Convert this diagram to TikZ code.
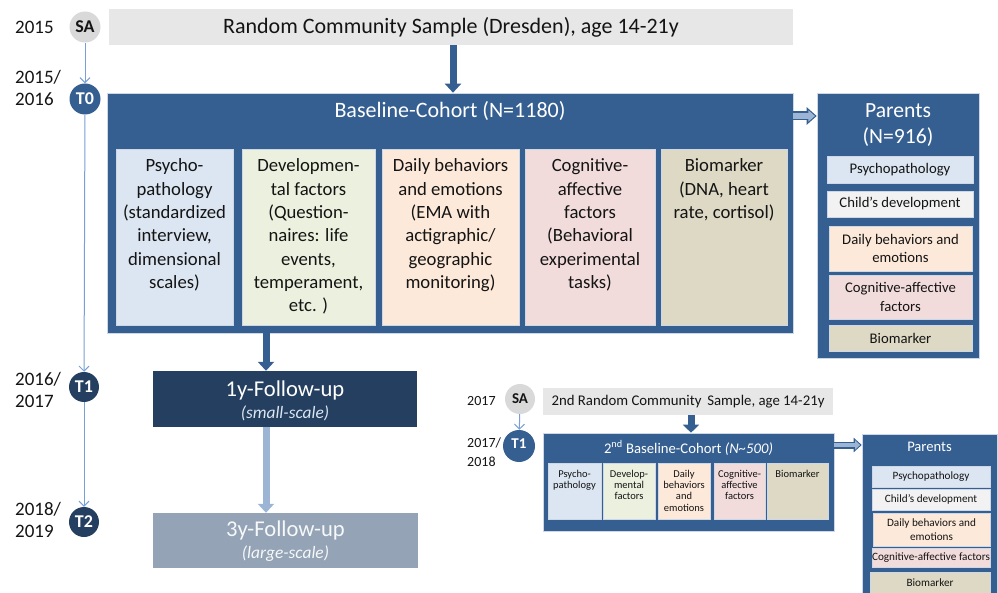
\documentclass[tikz,border=0pt]{standalone}
\usepackage{fontspec}
\setmainfont{Carlito}
\usetikzlibrary{arrows.meta,calc}
\definecolor{cdark}{RGB}{54,95,145}
\definecolor{cnavy}{RGB}{36,63,96}
\definecolor{cgrey}{RGB}{148,163,182}
\definecolor{clight}{RGB}{157,181,213}
\definecolor{cline}{RGB}{120,160,215}
\definecolor{csamp}{RGB}{231,231,231}
\definecolor{ccirc}{RGB}{217,217,217}
\definecolor{fblue}{RGB}{220,230,242}
\definecolor{fgreen}{RGB}{235,241,222}
\definecolor{fpeach}{RGB}{253,233,217}
\definecolor{fpink}{RGB}{242,220,219}
\definecolor{ftan}{RGB}{221,217,196}
\definecolor{fwhite}{RGB}{242,242,242}
\definecolor{cborder}{RGB}{205,215,230}
\definecolor{ctext}{RGB}{20,20,20}
\newcommand{\fs}[2]{\fontsize{#1}{#2}\selectfont}
\tikzset{
  yr/.style={anchor=west, align=left, text=ctext, inner sep=0, font=\fs{19}{21.5}},
  yrs/.style={anchor=west, align=left, text=ctext, inner sep=0, font=\fs{14}{19}},
  circgrey/.style={circle, fill=ccirc, minimum size=31, inner sep=0, text=ctext, font=\bfseries\fs{18}{18}},
  circblue/.style={circle, fill=#1, minimum size=31, inner sep=0, text=white, font=\bfseries\fs{18}{18}},
  rbox/.style={rectangle, inner sep=0, draw=cborder, line width=0.6pt},
  btext/.style={anchor=north, align=center, inner sep=0, text=ctext, font=\fs{18.7}{23.3}},
  stext/.style={anchor=north, align=center, inner sep=0, text=ctext, font=\fs{10.5}{11.4}},
  ptext/.style={align=center, inner sep=0, text=ctext, font=\fs{14.7}{18.5}},
  p2text/.style={align=center, inner sep=0, text=ctext, font=\fs{11.2}{13.5}},
  bigarrow/.style={line width=7pt, draw=#1, -{Triangle[length=9pt,width=16pt]}},
  tl/.style={line width=1pt, draw=cline, -{Straight Barb[length=5pt,width=10pt]}},
}
\begin{document}
\begin{tikzpicture}[x=1pt,y=-1pt]
\useasboundingbox (0,0) rectangle (998,593);
\clip (0,0) rectangle (998,593);
% ---------- timeline ----------
\node[yr] (y2015) at (15,27) {2015};
\node[yr] (y2016) at (15,88) {2015/\\2016};
\node[yr] (y2017) at (15,390) {2016/\\2017};
\node[yr] (y2019) at (15,520) {2018/\\2019};
\node[circgrey] (sa) at (85,27) {SA};
\node[circblue=cdark] (t0) at (85,99) {T0};
\node[circblue=cnavy, minimum size=30] (t1) at (84,387) {T1};
\node[circblue=cnavy, minimum size=30] (t2) at (84,522) {T2};
\draw[tl] (sa) -- (t0);
\draw[tl] (t0) -- (t1);
\draw[tl] (t1) -- (t2);
% ---------- sample ----------
\node[rectangle, fill=csamp, minimum width=684, minimum height=36, inner sep=0, font=\fs{22}{26}, text=ctext] (samp) at (451,27) {Random Community Sample (Dresden), age 14-21y};
% ---------- baseline ----------
\node[rbox, fill=cdark, minimum width=686, minimum height=240] (base) at (450,213) {};
\node[inner sep=0, text=white, font=\fs{22}{26}] (basetitle) at (450,111) {Baseline-Cohort (N=1180)};
\draw[bigarrow=cdark] (453,0 |- samp.south) -- (453,0 |- base.north);
\node[rbox, fill=fblue,  minimum width=117, minimum height=176] (b1) at (174.5,237) {};
\node[rbox, fill=fgreen, minimum width=133, minimum height=176] (b2) at (308.5,237) {};
\node[rbox, fill=fpeach, minimum width=137, minimum height=176] (b3) at (450.5,237) {};
\node[rbox, fill=fpink,  minimum width=130, minimum height=176] (b4) at (590,237) {};
\node[rbox, fill=ftan,   minimum width=126, minimum height=176] (b5) at (724,237) {};
\node[btext] (b1t) at ($(b1.north)+(0,10)$) {Psycho-\\pathology\\(standardized\\interview,\\dimensional\\scales)};
\node[btext] (b2t) at ($(b2.north)+(0,10)$) {Developmen-\\tal factors\\(Question-\\naires: life\\events,\\temperament,\\etc. )};
\node[btext] (b3t) at ($(b3.north)+(0,10)$) {Daily behaviors\\and emotions\\(EMA with\\actigraphic/\\geographic\\monitoring)};
\node[btext] (b4t) at ($(b4.north)+(0,10)$) {Cognitive-\\affective\\factors\\(Behavioral\\experimental\\tasks)};
\node[btext] (b5t) at ($(b5.north)+(0,10)$) {Biomarker\\(DNA, heart\\rate, cortisol)};
% ---------- parents ----------
\node[rbox, fill=cdark, minimum width=162, minimum height=265] (par) at (898,225.5) {};
\node[inner sep=0, text=white, font=\fs{21.6}{26}, align=center] (partitle) at (898,125) {Parents\\(N=916)};
\node[rbox, fill=fblue,  minimum width=146, minimum height=27, ptext] (p1) at (900,169.5) {Psychopathology};
\node[rbox, fill=fwhite, minimum width=146, minimum height=26, ptext] (p2) at (900,204) {Child’s development};
\node[rbox, fill=fpeach, minimum width=143, minimum height=45, ptext] (p3) at (900.5,248.5) {Daily behaviors and\\emotions};
\node[rbox, fill=fpink,  minimum width=143, minimum height=44, ptext] (p4) at (900.5,297) {Cognitive-affective\\factors};
\node[rbox, fill=ftan,   minimum width=143, minimum height=26, ptext] (p5) at (900.5,338) {Biomarker};
\draw[line width=9pt, draw=cdark, -{Triangle[length=10pt,width=17pt]}] (base.east |- 0,116) -- (par.west |- 0,116);
\draw[line width=5.5pt, draw=clight, -{Triangle[length=6.5pt,width=11pt]}, shorten >=1.8pt] (base.east |- 0,116) -- (par.west |- 0,116);
% ---------- follow-ups ----------
\node[rectangle, fill=cnavy, minimum width=264, minimum height=56, inner sep=0] (fu1) at (285,399) {};
\node[inner sep=0, text=white, font=\fs{22.6}{26}] (fu1a) at (285,390) {1y-Follow-up};
\node[inner sep=0, text=fblue, font=\itshape\fs{17.4}{20}] (fu1b) at (285,413) {(small-scale)};
\node[rectangle, fill=cgrey, minimum width=265, minimum height=55, inner sep=0] (fu3) at (285.5,540.5) {};
\node[inner sep=0, text=white!92!cgrey, font=\fs{22.6}{26}] (fu3a) at (285.5,530) {3y-Follow-up};
\node[inner sep=0, text=white!92!cgrey, font=\itshape\fs{17.4}{20}] (fu3b) at (285.5,554) {(large-scale)};
\draw[bigarrow=cdark] (266,0 |- base.south) -- (266,0 |- fu1.north);
\draw[bigarrow=clight] (266,0 |- fu1.south) -- (266,0 |- fu3.north);
% ---------- second sample ----------
\node[yrs] (y2017b) at (467,401) {2017};
\node[yrs] (y2018b) at (467,452) {2017/\\2018};
\node[circgrey, minimum size=30, font=\bfseries\fs{15}{15}] (sa2) at (520,399) {SA};
\node[circblue=cdark, minimum size=32, font=\bfseries\fs{15}{15}] (t12) at (519,446) {\raisebox{4pt}{T1}};
\draw[tl] (sa2) -- (t12);
\node[rectangle, fill=csamp, minimum width=290, minimum height=27, inner sep=0, font=\fs{14.8}{17}, text=ctext] (samp2) at (688,401.5) {2nd Random Community\, Sample, age 14-21y};
\node[rbox, fill=cdark, minimum width=291, minimum height=98] (base2) at (688.5,482) {};
\node[inner sep=0, text=white, font=\fs{14.7}{17}] (base2title) at (688.5,448) {2\textsuperscript{nd} Baseline-Cohort \textit{(N\textasciitilde500)}};
\draw[line width=7pt, draw=cdark, -{Triangle[length=8pt,width=16pt]}] (691,0 |- samp2.south) -- (691,0 |- base2.north);
\node[rbox, fill=fblue,  minimum width=53, minimum height=56] (s1) at (574.5,491) {};
\node[rbox, fill=fgreen, minimum width=52, minimum height=56] (s2) at (629,491) {};
\node[rbox, fill=fpeach, minimum width=52, minimum height=56] (s3) at (684,491) {};
\node[rbox, fill=fpink,  minimum width=51, minimum height=56] (s4) at (739.5,491) {};
\node[rbox, fill=ftan,   minimum width=61, minimum height=56] (s5) at (797.5,491) {};
\node[stext] (s1t) at ($(s1.north)+(0,7)$) {Psycho-\\pathology};
\node[stext] (s2t) at ($(s2.north)+(0,7)$) {Develop-\\mental\\factors};
\node[stext] (s3t) at ($(s3.north)+(0,7)$) {Daily\\behaviors\\and\\emotions};
\node[stext] (s4t) at ($(s4.north)+(0,7)$) {Cognitive-\\affective\\factors};
\node[stext] (s5t) at ($(s5.north)+(0,7)$) {Biomarker};
% ---------- parents 2 ----------
\node[rbox, fill=cdark, minimum width=135, minimum height=163] (par2) at (929.5,515.5) {};
\node[inner sep=0, text=white, font=\fs{14.6}{17}] (par2title) at (929.5,447) {Parents};
\node[rbox, fill=fblue,  minimum width=118, minimum height=21, p2text] (q1) at (931,476.5) {Psychopathology};
\node[rbox, fill=fwhite, minimum width=118, minimum height=21, p2text] (q2) at (931,499.5) {Child’s development};
\node[rbox, fill=fpeach, minimum width=117, minimum height=33, p2text] (q3) at (931.5,529.5) {Daily behaviors and\\emotions};
\node[rbox, fill=fpink,  minimum width=118, minimum height=19, p2text] (q4) at (931,557.5) {Cognitive-affective factors};
\node[rbox, fill=ftan,   minimum width=120, minimum height=22, p2text] (q5) at (930,583) {Biomarker};
\draw[line width=7pt, draw=cdark, -{Triangle[length=8pt,width=14pt]}] (base2.east |- 0,445) -- (par2.west |- 0,445);
\draw[line width=4pt, draw=clight, -{Triangle[length=5pt,width=9pt]}, shorten >=1.6pt] (base2.east |- 0,445) -- (par2.west |- 0,445);
\end{tikzpicture}
\end{document}
